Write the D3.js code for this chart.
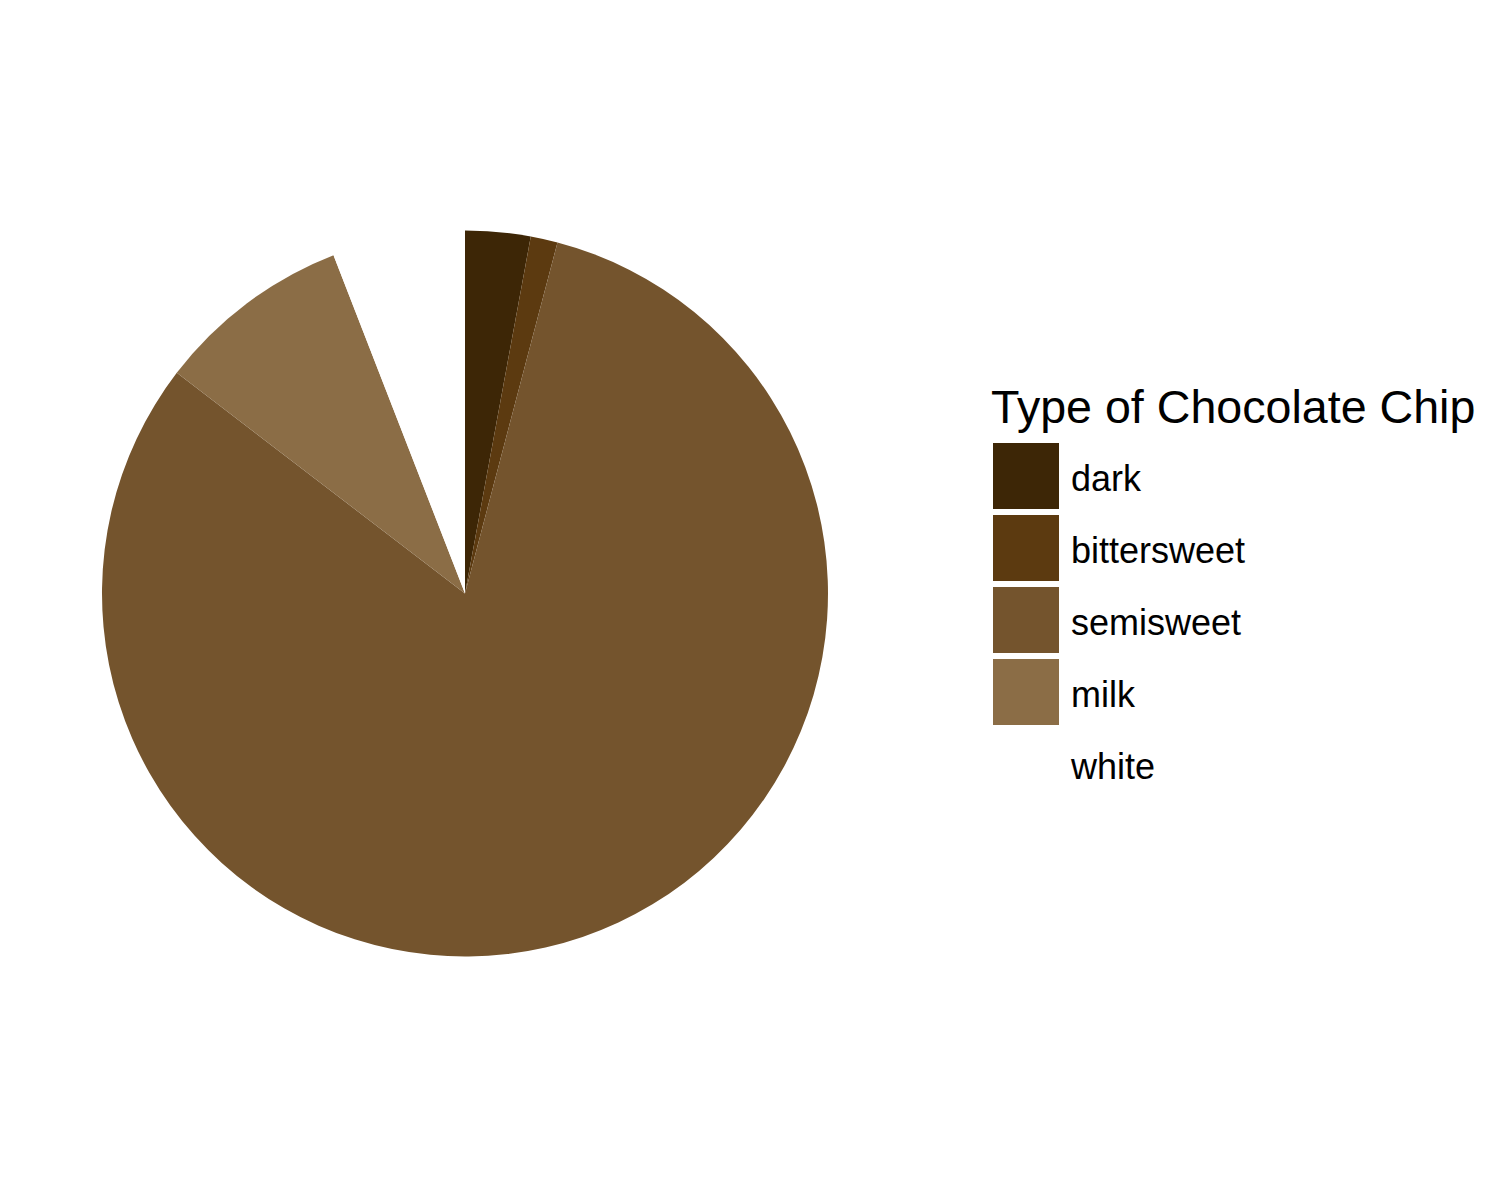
<!DOCTYPE html>
<html><head><meta charset="utf-8">
<script src="https://cdn.jsdelivr.net/npm/d3@7"></script>
<style>body{margin:0;background:#fff}svg{display:block}</style>
</head><body>
<script>
const categories = ["dark", "bittersweet", "semisweet", "milk", "white"];
const values = [2.9, 1.2, 81.3, 8.7, 5.9];
const colors = ["#3D2606", "#5C3A10", "#74542D", "#8B6D46", "#FFFFFF"];
const legendTitle = "Type of Chocolate Chip";

const W = 1500, H = 1200;
const svg = d3.select("body").append("svg").attr("width", W).attr("height", H);

const color = d3.scaleOrdinal().domain(categories).range(colors);
const data = categories.map((c, i) => ({cat: c, v: values[i]}));
const pie = d3.pie().value(d => d.v).sort(null).startAngle(0).endAngle(2 * Math.PI);
const arc = d3.arc().innerRadius(0).outerRadius(363);

const g = svg.append("g").attr("transform", "translate(465,593.5)");
g.selectAll("path").data(pie(data)).join("path")
  .attr("d", arc).attr("fill", d => color(d.data.cat));

const lg = svg.append("g").attr("font-family", "Arial, 'Liberation Sans', sans-serif");
lg.append("text").attr("x", 991).attr("y", 423).attr("font-size", 46.6).attr("fill", "#000").text(legendTitle);
const ky = d3.scaleBand().domain(categories).range([443, 443 + 72 * categories.length]).paddingInner(0);
const items = lg.selectAll("g.item").data(categories).join("g").attr("class", "item");
items.append("rect").attr("x", 993).attr("y", d => ky(d)).attr("width", 66).attr("height", 66)
  .attr("fill", d => color(d));
items.append("text").attr("x", 1071).attr("y", d => ky(d) + 33 + 15).attr("font-size", 36).attr("fill", "#000").text(d => d);
</script>
</body></html>
